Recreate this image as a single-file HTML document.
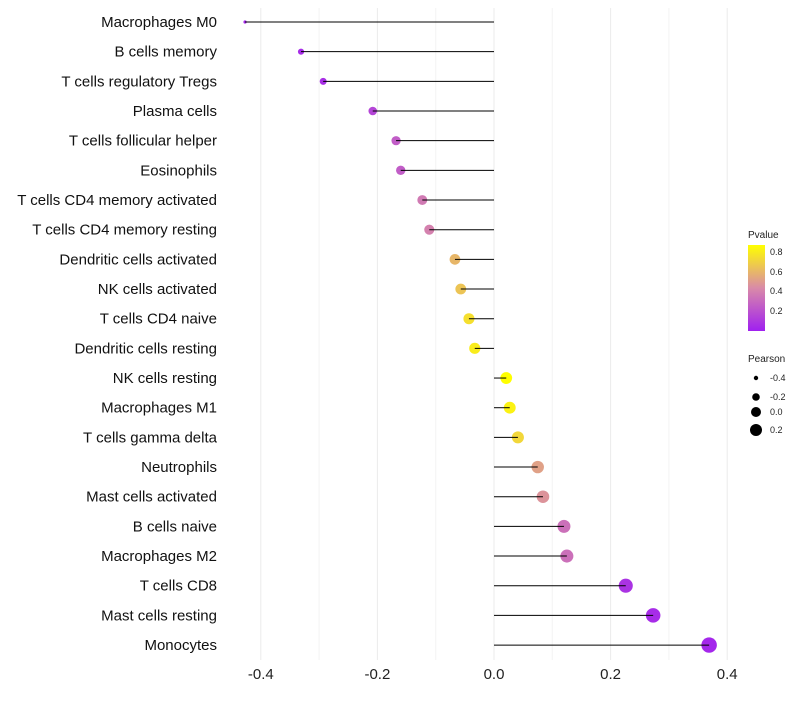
<!DOCTYPE html>
<html><head><meta charset="utf-8"><style>
body{margin:0;background:#fff;font-family:"Liberation Sans",sans-serif}
</style></head><body>
<svg id="chart" width="800" height="700" xmlns="http://www.w3.org/2000/svg">
<defs><linearGradient id="pg" x1="0" y1="1" x2="0" y2="0">
<stop offset="0" stop-color="#A020F0"/><stop offset="0.5" stop-color="#D98AA8"/><stop offset="1" stop-color="#FFFF00"/></linearGradient></defs>
<g id="grid"></g><g id="points"></g><g id="marks"></g><g id="labels"></g>
<g font-size="9" fill="#222">
<text x="748" y="238" font-size="10">Pvalue</text>
<rect x="748" y="245" width="17" height="86" fill="url(#pg)"/>
<text x="770" y="255">0.8</text><text x="770" y="275">0.6</text><text x="770" y="294">0.4</text><text x="770" y="314">0.2</text>
</g>
<g font-size="9" fill="#222">
<text x="748" y="362" font-size="10">Pearson</text>
<circle cx="756" cy="378" r="2.2" fill="#000"/><text x="770" y="381">-0.4</text>
<circle cx="756" cy="397" r="3.8" fill="#000"/><text x="770" y="400">-0.2</text>
<circle cx="756" cy="412" r="5" fill="#000"/><text x="770" y="415">0.0</text>
<circle cx="756" cy="430" r="6" fill="#000"/><text x="770" y="433">0.2</text>
</g>
</svg>
<script>
const categories=["Macrophages M0","B cells memory","T cells regulatory  Tregs ","Plasma cells","T cells follicular helper","Eosinophils","T cells CD4 memory activated","T cells CD4 memory resting","Dendritic cells activated","NK cells activated","T cells CD4 naive","Dendritic cells resting","NK cells resting","Macrophages M1","T cells gamma delta","Neutrophils","Mast cells activated","B cells naive","Macrophages M2","T cells CD8","Mast cells resting","Monocytes"];
const pearson=[-0.427,-0.331,-0.293,-0.208,-0.168,-0.160,-0.123,-0.111,-0.067,-0.057,-0.043,-0.033,0.021,0.027,0.041,0.075,0.084,0.120,0.125,0.226,0.273,0.369];
const pvalue=[0.03,0.05,0.06,0.15,0.25,0.25,0.37,0.4,0.6,0.65,0.75,0.8,0.87,0.82,0.72,0.52,0.47,0.33,0.33,0.08,0.05,0.03];
const xticks=[-0.4,-0.2,0,0.2,0.4];
const xminor=[-0.3,-0.1,0.1,0.3];
const xtickLabels=["-0.4","-0.2","0.0","0.2","0.4"];
const NS="http://www.w3.org/2000/svg";
const xs=v=>494+v*583;
const ys=i=>22+i*29.67;
const rs=v=>Math.sqrt(2.6+Math.max(0,v+0.427)*72);
function lerp(a,b,t){return a.map((x,i)=>Math.round(x+(b[i]-x)*t));}
function col(p){const t=Math.max(0,Math.min(1,p/0.87));const a=[160,32,240],m=[217,138,168],b=[255,255,0];
const c=t<0.5?lerp(a,m,t*2):lerp(m,b,(t-0.5)*2);return `rgb(${c})`;}
function mk(tag,attrs,parent){const e=document.createElementNS(NS,tag);for(const k in attrs)e.setAttribute(k,attrs[k]);parent.appendChild(e);return e;}
const grid=document.getElementById('grid'),marks=document.getElementById('marks'),points=document.getElementById('points'),labels=document.getElementById('labels');
xminor.forEach(t=>{
 const l=mk('line',{x1:xs(t),x2:xs(t),y1:8,y2:660,stroke:'#f3f3f3','stroke-width':1},grid);
 
 
});
xticks.forEach((t,i)=>{
 const l=mk('line',{x1:xs(t),x2:xs(t),y1:8,y2:660,stroke:'#ebebeb','stroke-width':1},grid);
 
 
 const tx=mk('text',{x:xs(t),y:679,'text-anchor':'middle','font-size':15,fill:'#222'},labels);
 tx.textContent=xtickLabels[i];
 
 
});
categories.forEach((c,i)=>{
 const y=ys(i);
 const tx=mk('text',{x:217,y:y+5,'text-anchor':'end','font-size':15,fill:'#111'},labels);
 tx.textContent=c;
 
 
 const pt=mk('circle',{cx:xs(pearson[i]),cy:y,r:rs(pearson[i]),fill:col(pvalue[i])},points);
 
 
 const ln=mk('line',{x1:xs(0),x2:xs(pearson[i]),y1:y,y2:y,stroke:'#000','stroke-width':1},marks);
 
 
});
</script>
</body></html>
